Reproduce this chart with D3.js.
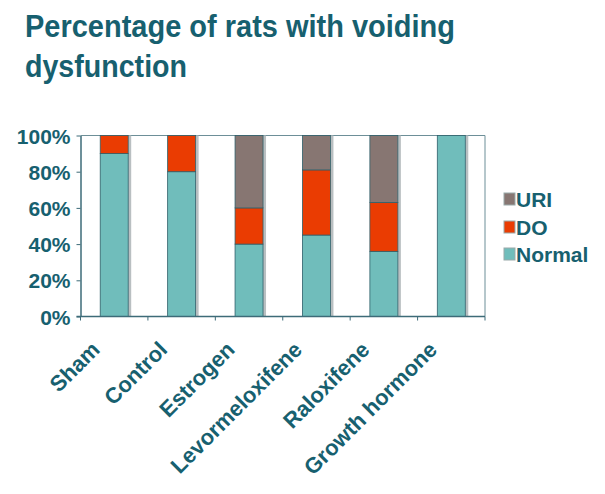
<!DOCTYPE html>
<html><head><meta charset="utf-8">
<script src="https://cdn.jsdelivr.net/npm/d3@7"></script>
<style>body{margin:0;background:#fff}svg{display:block}text{font-family:"Liberation Sans",Arial,sans-serif;font-weight:bold;fill:#17606f}</style>
</head><body><svg id="c" width="605" height="494"></svg>
<script>
const categories = ["Sham","Control","Estrogen","Levormeloxifene","Raloxifene","Growth hormone"];
const normal = [90, 80, 40, 45, 36, 100];
const dyso   = [10, 20, 20, 36, 27, 0];
const uri    = [0, 0, 40, 19, 37, 0];
const seriesNames = ["Normal","DO","URI"];
const seriesColors = ["#70bdbb","#ea3c02","#877672"];
const yTicks = [0,20,40,60,80,100];

const svg = d3.select("#c");
const L=80.5, R=485, T=135.5, B=316.5;
const x = d3.scaleBand().domain(categories).range([L,R]).padding(0);
const y = d3.scaleLinear().domain([0,100]).range([B,T]);
const textCol = "#17606f", lineCol="#3d6b78";

svg.append("text").attr("x",25).attr("y",37).style("font-size","32px")
  .attr("textLength",430).attr("lengthAdjust","spacingAndGlyphs").text("Percentage of rats with voiding");
svg.append("text").attr("x",25).attr("y",77).style("font-size","32px")
  .attr("textLength",162).attr("lengthAdjust","spacingAndGlyphs").text("dysfunction");

// plot border top/right
svg.append("path").attr("d",`M${L},${T}H${R}V${B}`).attr("fill","none").attr("stroke","#6d8f98").attr("stroke-width",1);

const rows = categories.map((c,i)=>({c, vals:[normal[i],dyso[i],uri[i]]}));
const stack = d3.stack().keys([0,1,2]).value((d,k)=>d.vals[k]);
const layers = stack(rows);
const bw = x.bandwidth()*0.415;
const bx = c => x(c)+x.bandwidth()/2-bw/2;

// shadows
svg.append("g").selectAll("rect").data(rows).join("rect")
  .attr("x",d=>bx(d.c)+bw).attr("width",3)
  .attr("y",y(100)).attr("height",B-y(100)).attr("fill","#b9bfc1");

layers.forEach((layer,k)=>{
  svg.append("g").selectAll("rect").data(layer.filter(d=>d[1]>d[0])).join("rect")
    .attr("x",d=>bx(d.data.c)).attr("width",bw)
    .attr("y",d=>y(d[1])).attr("height",d=>y(d[0])-y(d[1]))
    .attr("fill",seriesColors[k]).attr("stroke","#2f5f6a").attr("stroke-width",0.8);
});

// y axis
const ya = svg.append("g").attr("transform",`translate(${L},0)`)
  .call(d3.axisLeft(y).tickValues(yTicks).tickFormat(d=>d+"%").tickSize(4).tickSizeOuter(0));
ya.select(".domain").attr("stroke",lineCol).attr("stroke-width",1.5);
ya.selectAll(".tick line").attr("stroke",lineCol);
ya.selectAll(".tick text").attr("x",-10).attr("dy","0.36em").style("font-size","21px").attr("fill",textCol);

// x axis
const xa = svg.append("g").attr("transform",`translate(0,${B})`);
xa.append("line").attr("x1",L-4).attr("x2",R).attr("y1",0).attr("y2",0).attr("stroke",lineCol).attr("stroke-width",1.5);
xa.selectAll("line.tk").data(categories.map(c=>x(c)).concat([R])).join("line").attr("class","tk")
  .attr("x1",d=>d).attr("x2",d=>d).attr("y1",0).attr("y2",4).attr("stroke",lineCol);
svg.append("g").selectAll("text").data(categories).join("text")
  .attr("transform",c=>`translate(${x(c)+x.bandwidth()/2-13},351) rotate(-45)`)
  .attr("text-anchor","end").style("font-size","22px").text(c=>c);

// legend
const leg = [{n:"URI",c:seriesColors[2],y:199},{n:"DO",c:seriesColors[1],y:227},{n:"Normal",c:seriesColors[0],y:254}];
const lg = svg.append("g");
lg.selectAll("rect").data(leg).join("rect").attr("x",504).attr("y",d=>d.y-6).attr("width",11).attr("height",12).attr("fill",d=>d.c).attr("stroke","#9aa","stroke-width",0.5);
lg.selectAll("text").data(leg).join("text").attr("x",516).attr("y",d=>d.y+7.5).style("font-size","21px").text(d=>d.n);
</script></body></html>
